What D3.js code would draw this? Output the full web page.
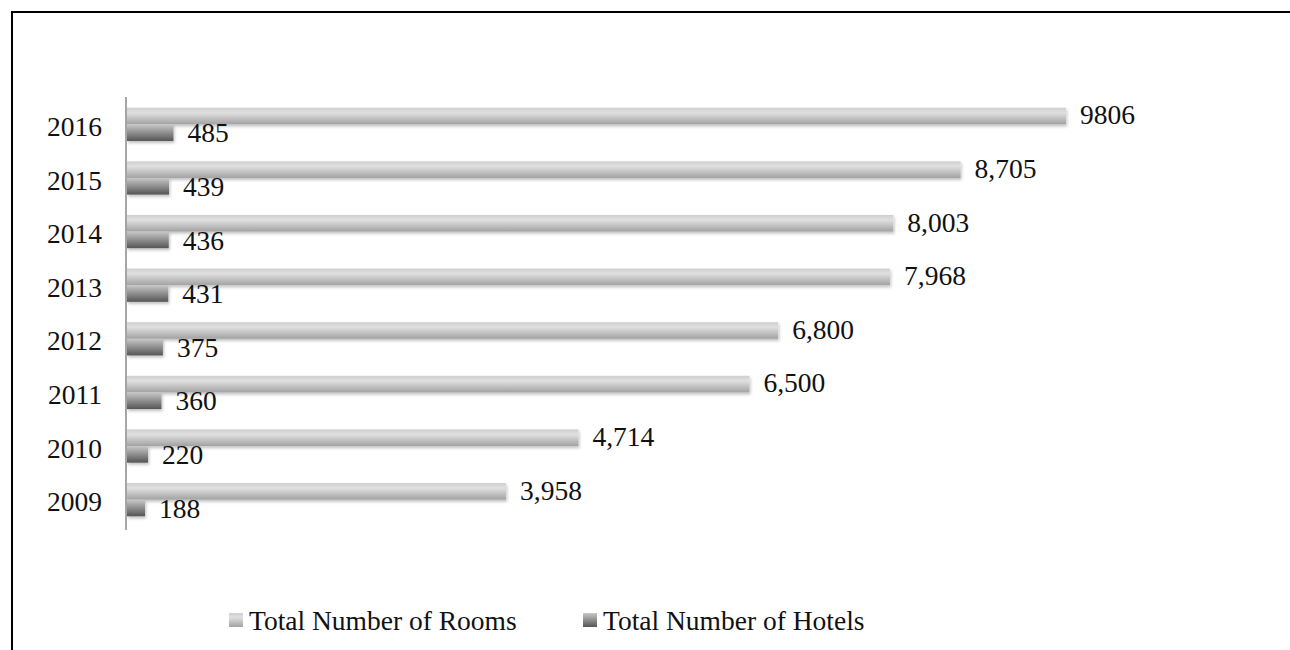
<!DOCTYPE html>
<html>
<head>
<meta charset="utf-8">
<script src="https://cdn.jsdelivr.net/npm/d3@7"></script>
<style>
  html, body { margin: 0; padding: 0; background: #fff; }
  svg { display: block; }
  text { font-family: "Liberation Serif", "DejaVu Serif", serif; fill: #111; }
</style>
</head>
<body>
<div id="chart"></div>
<script>
// data
const years = ["2016", "2015", "2014", "2013", "2012", "2011", "2010", "2009"];
const rooms = [9806, 8705, 8003, 7968, 6800, 6500, 4714, 3958];
const hotels = [485, 439, 436, 431, 375, 360, 220, 188];
const roomLabels = ["9806", "8,705", "8,003", "7,968", "6,800", "6,500", "4,714", "3,958"];
const seriesNames = ["Total Number of Rooms", "Total Number of Hotels"];

const width = 1290;
const height = 650;
const margin = { top: 97, left: 127, bottom: 120 };
const fontSize = "27.5px";

const svg = d3.select("#chart")
    .append("svg")
    .attr("width", width)
    .attr("height", height);

// gradients + shadow
const defs = svg.append("defs");
const gRooms = defs.append("linearGradient").attr("id", "gRooms")
    .attr("x1", 0).attr("y1", 0).attr("x2", 0).attr("y2", 1);
gRooms.append("stop").attr("offset", "0%").attr("stop-color", "#cfcfcf");
gRooms.append("stop").attr("offset", "30%").attr("stop-color", "#e0e0e0");
gRooms.append("stop").attr("offset", "100%").attr("stop-color", "#a2a2a2");

const gHotels = defs.append("linearGradient").attr("id", "gHotels")
    .attr("x1", 0).attr("y1", 0).attr("x2", 0).attr("y2", 1);
gHotels.append("stop").attr("offset", "0%").attr("stop-color", "#c8c8c8");
gHotels.append("stop").attr("offset", "100%").attr("stop-color", "#555555");

const shadow = defs.append("filter").attr("id", "shadow")
    .attr("x", "-5%").attr("y", "-30%").attr("width", "115%").attr("height", "180%");
shadow.append("feDropShadow")
    .attr("dx", 1).attr("dy", 2).attr("stdDeviation", 1.5)
    .attr("flood-color", "#000").attr("flood-opacity", 0.25);

// frame
svg.append("line").attr("x1", 11).attr("x2", width).attr("y1", 12).attr("y2", 12)
    .attr("stroke", "#000").attr("stroke-width", 2);
svg.append("line").attr("x1", 12).attr("x2", 12).attr("y1", 11).attr("y2", height)
    .attr("stroke", "#000").attr("stroke-width", 2);

// scales
const x = d3.scaleLinear().domain([0, 10000]).range([margin.left, margin.left + 957.6]);
const y = d3.scaleBand().domain(years).range([margin.top, height - margin.bottom - 3])
    .paddingInner(0.38).paddingOuter(0.2);
const ySub = d3.scaleBand().domain([0, 1]).range([0, y.bandwidth()]);

const rows = years.map((yr, i) => ({ year: yr, rooms: rooms[i], hotels: hotels[i], label: roomLabels[i] }));

// rooms bars
svg.append("g").attr("filter", "url(#shadow)")
    .selectAll("rect").data(rows).join("rect")
    .attr("x", x(0))
    .attr("y", d => y(d.year) + ySub(0))
    .attr("width", d => x(d.rooms) - x(0))
    .attr("height", ySub.bandwidth())
    .attr("fill", "url(#gRooms)");

// hotels bars
svg.append("g").attr("filter", "url(#shadow)")
    .selectAll("rect").data(rows).join("rect")
    .attr("x", x(0))
    .attr("y", d => y(d.year) + ySub(1))
    .attr("width", d => x(d.hotels) - x(0))
    .attr("height", ySub.bandwidth())
    .attr("fill", "url(#gHotels)");

// value labels
svg.append("g").selectAll("text").data(rows).join("text")
    .attr("x", d => x(d.rooms) + 14)
    .attr("y", d => y(d.year) + ySub(0) + ySub.bandwidth() / 2)
    .attr("dy", "0.3em")
    .style("font-size", fontSize)
    .text(d => d.label);

svg.append("g").selectAll("text").data(rows).join("text")
    .attr("x", d => x(d.hotels) + 14)
    .attr("y", d => y(d.year) + ySub(1) + ySub.bandwidth() / 2)
    .attr("dy", "0.35em")
    .style("font-size", fontSize)
    .text(d => d3.format(",")(d.hotels));

// y axis
const yAxis = svg.append("g")
    .attr("transform", `translate(${margin.left - 1},0)`)
    .call(d3.axisLeft(y).tickSize(0).tickPadding(24));
yAxis.select(".domain").attr("stroke", "#888").attr("stroke-width", 1.5)
    .attr("d", `M0,${margin.top}V${height - margin.bottom}`);
yAxis.selectAll(".tick text")
    .style("font-size", fontSize)
    .style("font-family", "Liberation Serif, serif")
    .attr("dy", "0.42em")
    .attr("fill", "#111");

// legend
const legend = svg.append("g").attr("transform", "translate(229,613)");
const legendX = [0, 354];
const legendFill = ["url(#gRooms)", "url(#gHotels)"];
seriesNames.forEach((name, i) => {
    const g = legend.append("g").attr("transform", `translate(${legendX[i]},0)`);
    g.append("rect").attr("width", 14).attr("height", 14).attr("fill", legendFill[i]);
    g.append("text").attr("x", 20).attr("y", 7).attr("dy", "0.38em")
        .style("font-size", fontSize).text(name);
});
</script>
</body>
</html>
